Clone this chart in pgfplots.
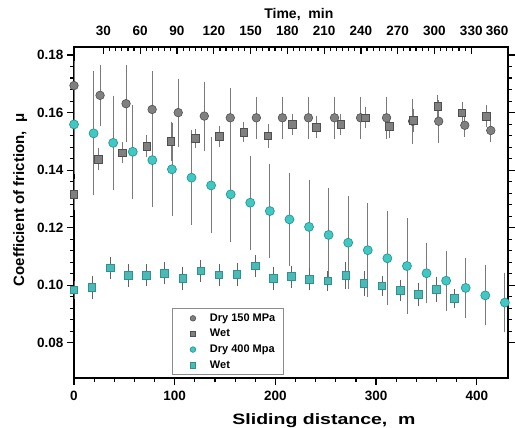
\documentclass[border=0pt]{standalone}
\usepackage{pgfplots}
\pgfplotsset{compat=1.18}
\usepackage{pgfplotstable}
\usepackage{fontspec}
\setmainfont{Liberation Sans}
\definecolor{gmark}{HTML}{808080}
\definecolor{gedge}{HTML}{505050}
\definecolor{cmark}{HTML}{40C8C4}
\definecolor{cedge}{HTML}{2A9590}
\definecolor{ebar}{HTML}{7A7A7A}

\pgfplotstableread{
x y e
0 0.1694 0.0070
25.9 0.1660 0.0093
51.7 0.1631 0.0120
77.6 0.1611 0.0118
103.5 0.1600 0.0104
129.4 0.1588 0.0106
155.2 0.1582 0.0090
181.1 0.1582 0.0060
207.0 0.1582 0.0060
232.8 0.1582 0.0060
258.7 0.1582 0.0060
284.6 0.1582 0.0060
310.4 0.1582 0.0060
336.3 0.1570 0.0065
362.2 0.1570 0.0060
388.1 0.1556 0.0026
413.9 0.1538 0.0025
}\dryA

\pgfplotstableread{
x y e
0 0.1316 0.0040
24.1 0.1438 0.0024
48.2 0.1461 0.0023
72.2 0.1484 0.0024
96.3 0.1500 0.0055
120.4 0.1510 0.0020
144.5 0.1517 0.0023
168.6 0.1532 0.0020
192.6 0.1519 0.0027
216.7 0.1559 0.0023
240.8 0.1550 0.0026
264.9 0.1559 0.0022
289.0 0.1582 0.0023
313.0 0.1553 0.0026
337.1 0.1574 0.0026
361.2 0.1621 0.0026
385.3 0.1600 0.0023
409.4 0.1588 0.0025
}\wetA

\pgfplotstableread{
x y e
0 0.1559 0.0160
19.45 0.1528 0.0202
38.9 0.1495 0.0150
58.35 0.1464 0.0150
77.8 0.1435 0.0150
97.25 0.1403 0.0147
116.7 0.1374 0.0151
136.15 0.1347 0.0153
155.6 0.1316 0.0150
175.05 0.1287 0.0150
194.5 0.1258 0.0150
213.95 0.1229 0.0148
233.4 0.1203 0.0148
252.85 0.1175 0.0149
272.3 0.1148 0.0148
291.75 0.1122 0.0150
311.2 0.1094 0.0150
330.65 0.1067 0.0152
350.1 0.1042 0.0091
369.55 0.1016 0.0090
389.0 0.0991 0.0090
408.45 0.0965 0.0090
427.9 0.0940 0.0090
}\dryB

\pgfplotstableread{
x y e
0 0.0984 0.0018
18 0.0992 0.0027
36 0.1061 0.0025
54 0.1035 0.0026
72 0.1035 0.0025
90 0.1042 0.0025
108 0.1023 0.0025
126 0.1050 0.0025
144 0.1036 0.0025
162 0.1038 0.0025
180 0.1067 0.0025
198 0.1024 0.0025
216 0.1030 0.0024
234 0.1021 0.0025
252 0.1015 0.0020
270 0.1035 0.0033
288 0.1006 0.0030
306 0.0998 0.0022
324 0.0983 0.0023
342 0.0969 0.0026
360 0.0986 0.0030
378 0.0954 0.0019
}\wetB

\pgfplotsset{lg/.style={legend image code/.code={\path[draw=none, fill=none] (0pt,0pt) -- (30pt,0pt); \draw[#1, only marks, mark size=2.8pt] plot coordinates {(15pt,0pt)};}}}

\begin{document}
\begin{tikzpicture}
\path[use as bounding box] (0,0) rectangle (515pt,428pt);
\begin{axis}[
  at={(74pt,50pt)}, anchor=south west, scale only axis,
  width=434pt, height=331pt,
  xmin=0, xmax=431, ymin=0.0678, ymax=0.1828,
  xtick={0,100,200,300,400}, minor x tick num=4,
  ytick={0.08,0.10,0.12,0.14,0.16,0.18}, minor y tick num=4,
  xtick pos=bottom, ytick pos=both, yticklabel pos=left,
  tick align=outside,
  major tick length=7pt, minor tick length=4pt,
  axis line style={line width=1.5pt},
  every tick/.style={black, line width=1.2pt},
  scaled y ticks=false,
  /pgf/number format/assume math mode=true,
  yticklabel style={/pgf/number format/fixed, /pgf/number format/precision=2, /pgf/number format/fixed zerofill},
  xticklabel style={yshift=-3pt},
  tick label style={font=\fontsize{13.5}{16}\selectfont\bfseries},
  xlabel={Sliding distance,\ \ m},
  xlabel style={font=\fontsize{15}{18}\selectfont\bfseries, xscale=1.3, at={(axis description cs:0.576,0)}, anchor=center, yshift=-43pt},
  ylabel={Coefficient of friction,\ \ μ},
  ylabel style={font=\fontsize{15}{18}\selectfont\bfseries, at={(axis description cs:-0.124,0.538)}, anchor=center},
  legend style={at={(0.225,0.009)}, anchor=south west, draw=black!45, line width=0.6pt,
    font=\fontsize{11}{13}\selectfont\bfseries, row sep=2.5pt, inner xsep=6pt, inner ysep=3pt, cells={anchor=west}},
  error bars/y dir=both, error bars/y explicit,
]
\addplot[only marks, lg, mark=*, mark size=4.3pt, mark options={fill=gmark, draw=gedge, line width=0.6pt},
  error bars/error bar style={ebar, line width=0.8pt},
  error bars/error mark options={ebar, mark size=4pt, line width=0.8pt}]
  table[x=x, y=y, y error=e] {\dryA};
\addlegendentry{Dry 150 MPa}
\addplot[only marks, lg, mark=square*, mark size=3.8pt, mark options={fill=gmark, draw=gedge, line width=0.6pt},
  error bars/error bar style={ebar, line width=0.8pt},
  error bars/error mark options={ebar, mark size=4pt, line width=0.8pt}]
  table[x=x, y=y, y error=e] {\wetA};
\addlegendentry{Wet}
\addplot[only marks, lg, mark=*, mark size=4.5pt, mark options={fill=cmark, draw=cedge, line width=0.7pt},
  error bars/error bar style={ebar, line width=0.8pt},
  error bars/error mark options={ebar, mark size=4pt, line width=0.8pt}]
  table[x=x, y=y, y error=e] {\dryB};
\addlegendentry{Dry 400 Mpa}
\addplot[only marks, lg, mark=square*, mark size=3.8pt, mark options={fill=cmark!80!gray, draw=cedge, line width=0.9pt},
  error bars/error bar style={ebar!80!black, line width=0.8pt},
  error bars/error mark options={ebar!80!black, mark size=4pt, line width=0.8pt}]
  table[x=x, y=y, y error=e] {\wetB};
\addlegendentry{Wet}
\end{axis}
\begin{axis}[
  at={(74pt,50pt)}, anchor=south west, scale only axis,
  width=434pt, height=331pt,
  xmin=6, xmax=360, ymin=0, ymax=1,
  axis x line*=top, axis y line=none,
  xtick={30,60,90,120,150,180,210,240,270,300,330},
  extra x ticks={360}, extra x tick labels={360},
  extra x tick style={xticklabel style={anchor=south east, xshift=4pt}},
  minor x tick num=5,
  tick align=inside,
  major tick length=7pt, minor tick length=4pt,
  axis line style={line width=1.5pt},
  every tick/.style={black, line width=1.2pt},
  /pgf/number format/assume math mode=true,
  xticklabel style={yshift=8pt},
  tick label style={font=\fontsize{13.5}{16}\selectfont\bfseries},
  xlabel={Time,\ \ min},
  xlabel style={font=\fontsize{14}{17}\selectfont\bfseries, at={(axis description cs:0.518,1)}, anchor=center, yshift=32pt},
]
\end{axis}
\end{tikzpicture}
\end{document}
